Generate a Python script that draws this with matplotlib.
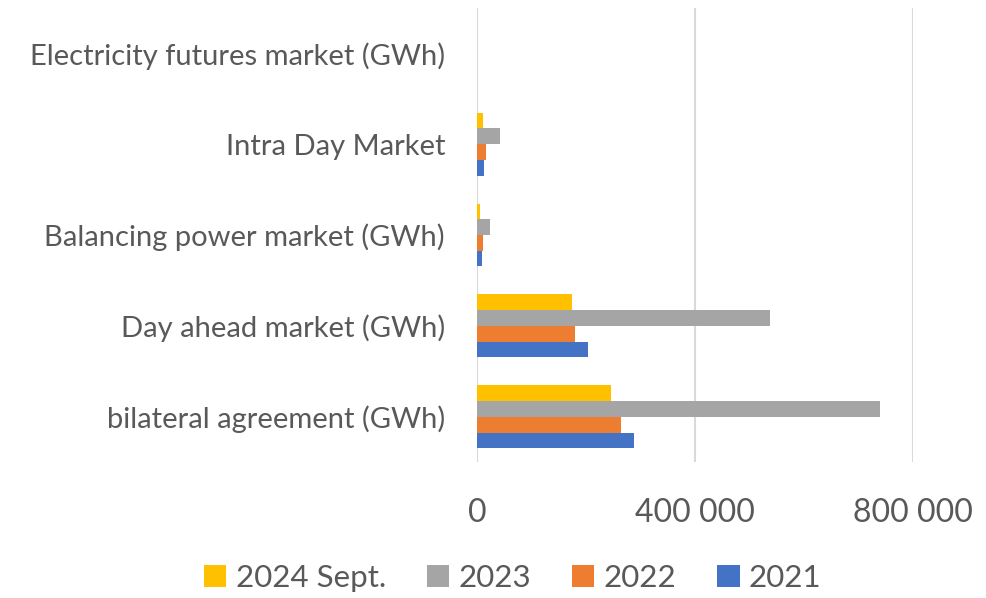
import numpy as np
import matplotlib
matplotlib.use('Agg')
from matplotlib import pyplot as plt

plt.rcParams['font.family'] = ['Lato', 'DejaVu Sans']

categories = ['bilateral agreement (GWh)', 'Day ahead market (GWh)',
              'Balancing power market (GWh)', 'Intra Day Market',
              'Electricity futures market (GWh)']
series_names = ['2021', '2022', '2023', '2024 Sept.']
v2021 = [287800, 202900, 9200, 12300, 0]
v2022 = [264000, 179100, 11700, 16500, 0]
v2023 = [740000, 537800, 23800, 41600, 0]
v2024 = [246400, 174200, 6200, 10400, 0]
colors = ['#4472C4', '#ED7D31', '#A5A5A5', '#FFC000']
xticks = [0, 400000, 800000]
xticklabels = ['0', '400 000', '800 000']

fig = plt.figure(figsize=(9.86, 5.98), dpi=100)
ax = fig.add_axes([0.4838, 0.227, 0.4422, 0.76])

y = np.arange(len(categories))
h = 0.173
data = [v2021, v2022, v2023, v2024]
bars = []
for i, (vals, c) in enumerate(zip(data, colors)):
    b = ax.barh(y + (i - 1.5) * h, vals, height=h, color=c, zorder=3)
    bars.append(b)

ax.set_ylim(-0.5, len(categories) - 0.5)
ax.set_xlim(0, 800000)
ax.set_yticks(y)
ax.set_yticklabels(categories)
ax.set_xticks(xticks)
ax.set_xticklabels(xticklabels)
ax.tick_params(length=0, labelsize=21, colors='#595959')
ax.tick_params(axis='x', pad=26, labelsize=23)
ax.tick_params(axis='y', pad=23)
ax.grid(axis='x', color='#D9D9D9', linewidth=1.5, zorder=0)
for s in ax.spines.values():
    s.set_visible(False)

# legend order as in the reference: newest first
handles = [bars[3], bars[2], bars[1], bars[0]]
labels = ['2024 Sept.', '2023', '2022', '2021']
fig.legend(handles, labels, loc='center', bbox_to_anchor=(0.52, 0.033), ncol=4,
           frameon=False, fontsize=22.5, labelcolor='#595959',
           handlelength=0.72, handleheight=0.72, handletextpad=0.3, columnspacing=1.3)

fig.savefig('out.png', dpi=100)
